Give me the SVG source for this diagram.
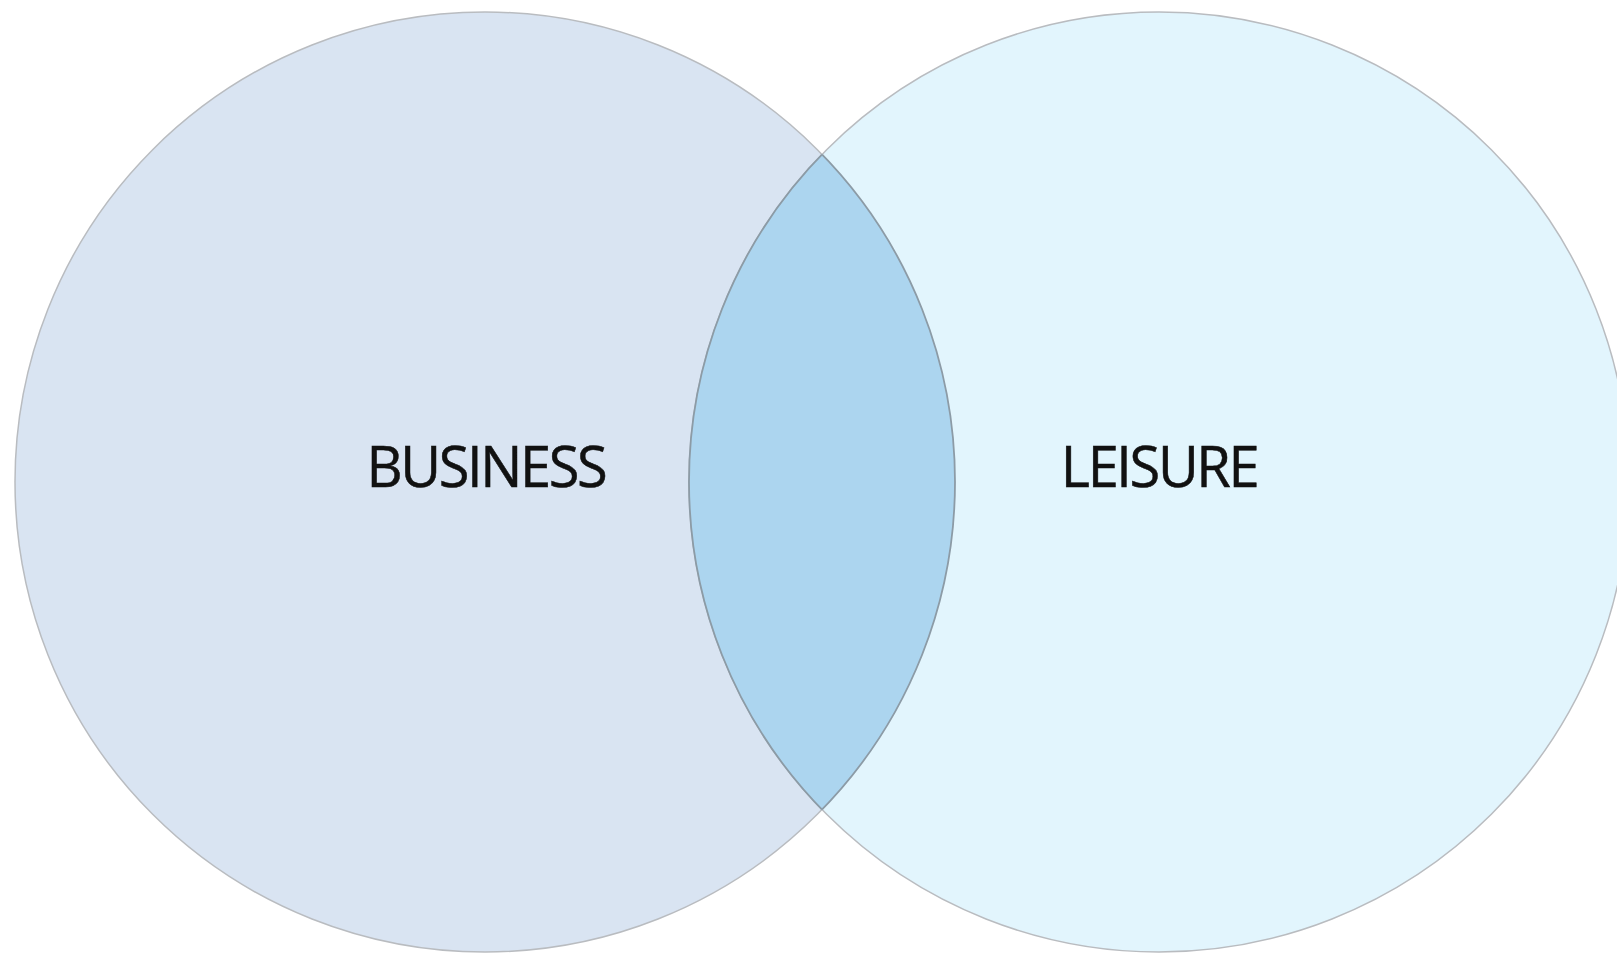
<svg xmlns="http://www.w3.org/2000/svg" width="1617" height="955" viewBox="0 0 1617 955">
  <style>
    .set { stroke: #b9bcc0; stroke-width: 1.5; }
    .overlap { fill: #acd5ef; }
    .overlap-edge { fill: none; stroke: #8c9ba6; stroke-width: 1.8; }
    .label { font-family: "Open Sans", "Liberation Sans", sans-serif; font-size: 56px; letter-spacing: -2.4px; fill: #111111; stroke: #111111; stroke-width: 0.5; text-anchor: middle; }
  </style>
  <defs>
    <clipPath id="clip-business">
      <circle cx="485" cy="482" r="470"/>
    </clipPath>
    <clipPath id="clip-leisure">
      <circle cx="1159" cy="482" r="470"/>
    </clipPath>
  </defs>
  <rect width="1617" height="955" fill="#ffffff"/>
  <g id="business">
    <circle class="set" cx="485" cy="482" r="470" fill="#d9e4f2"/>
  </g>
  <g id="leisure">
    <circle class="set" cx="1159" cy="482" r="470" fill="#e2f5fd"/>
  </g>
  <g id="overlap">
    <!-- lens where both sets intersect -->
    <circle class="overlap" cx="1159" cy="482" r="470" clip-path="url(#clip-business)"/>
    <circle class="overlap-edge" cx="1159" cy="482" r="470" clip-path="url(#clip-business)"/>
    <circle class="overlap-edge" cx="485" cy="482" r="470" clip-path="url(#clip-leisure)"/>
  </g>
  <g id="labels">
    <text class="label" x="486" y="487">BUSINESS</text>
    <text class="label" x="1159" y="487">LEISURE</text>
  </g>
</svg>
